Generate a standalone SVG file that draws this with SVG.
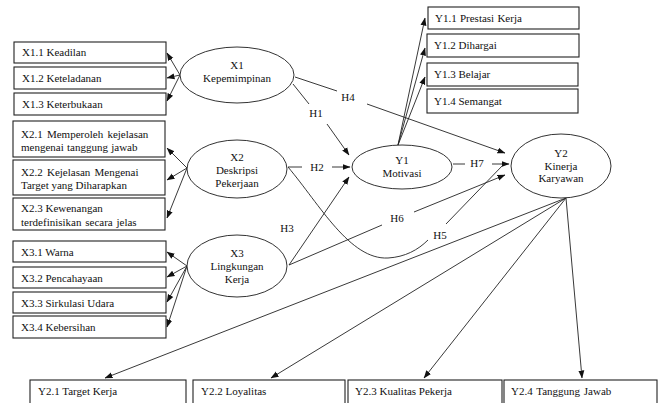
<svg xmlns="http://www.w3.org/2000/svg" width="660" height="403" viewBox="0 0 660 403">
<defs>
<marker id="ah" markerUnits="userSpaceOnUse" markerWidth="8" markerHeight="8" viewBox="0 0 8 8" refX="7.5" refY="4" orient="auto">
<path d="M0,1 L8,4 L0,7 Z" fill="#111"/>
</marker>
</defs>
<style>
text{font-family:"Liberation Serif","Times New Roman",serif;font-size:11px;fill:#111}
.box{fill:#fff;stroke:#222;stroke-width:1.1}
.ell{fill:#fff;stroke:#333;stroke-width:1}
.c{text-anchor:middle}
.ln{fill:none;stroke:#222;stroke-width:0.9}
.ar{fill:none;stroke:#222;stroke-width:0.9;marker-end:url(#ah)}
</style>
<rect width="660" height="403" fill="#fff"/>

<g id="connectors">
<line class="ar" x1="180" y1="75" x2="167" y2="53"/>
<line class="ar" x1="180" y1="75" x2="167" y2="78"/>
<line class="ar" x1="180" y1="75" x2="167" y2="101"/>
<line class="ar" x1="187" y1="168" x2="167" y2="148"/>
<line class="ar" x1="187" y1="168" x2="167" y2="180"/>
<line class="ar" x1="187" y1="168" x2="167" y2="218"/>
<line class="ar" x1="187" y1="266" x2="167" y2="252"/>
<line class="ar" x1="187" y1="266" x2="167" y2="277"/>
<line class="ar" x1="187" y1="266" x2="167" y2="302"/>
<line class="ar" x1="187" y1="266" x2="167" y2="327"/>
<line class="ar" x1="398" y1="145" x2="425" y2="18"/>
<line class="ar" x1="398" y1="145" x2="425" y2="48"/>
<line class="ar" x1="398" y1="145" x2="425" y2="77"/>
<line class="ar" x1="566" y1="198" x2="105" y2="378"/>
<line class="ar" x1="566" y1="198" x2="271" y2="378"/>
<line class="ar" x1="566" y1="198" x2="424" y2="378"/>
<line class="ar" x1="566" y1="198" x2="582" y2="378"/>
<line class="ln" x1="293" y1="84" x2="309" y2="104"/>
<line class="ar" x1="327" y1="124" x2="349" y2="155"/>
<line class="ln" x1="295" y1="77" x2="337" y2="91"/>
<line class="ar" x1="367" y1="104" x2="505" y2="153"/>
<line class="ln" x1="288" y1="167" x2="302" y2="167"/>
<line class="ar" x1="332" y1="167" x2="350" y2="167"/>
<line class="ar" x1="289" y1="265" x2="349" y2="177"/>
<line class="ln" x1="289" y1="265" x2="382" y2="225"/>
<line class="ar" x1="414" y1="212" x2="505" y2="175"/>
<path class="ln" d="M288,167 C320,205 350,260 388,258 C405,257 418,250 428,240"/>
<line class="ln" x1="446" y1="224" x2="503" y2="165"/>
<line class="ln" x1="453" y1="164" x2="465" y2="164"/>
<line class="ar" x1="492" y1="164" x2="509" y2="164"/>
<text x="316" y="117" class="c">H1</text>
<text x="348" y="101" class="c">H4</text>
<text x="317" y="171" class="c">H2</text>
<text x="287" y="232" class="c">H3</text>
<text x="397" y="222" class="c">H6</text>
<text x="440" y="239" class="c">H5</text>
<text x="477" y="167" class="c">H7</text>
</g>

<g id="X1"><ellipse class="ell" cx="237" cy="75" rx="57" ry="28"/><text x="237" y="69" class="c">X1</text><text x="237" y="82" class="c">Kepemimpinan</text></g>
<g id="X2"><ellipse class="ell" cx="237" cy="169" rx="50" ry="29"/><text x="237" y="161" class="c">X2</text><text x="237" y="174" class="c">Deskripsi</text><text x="237" y="187" class="c">Pekerjaan</text></g>
<g id="X3"><ellipse class="ell" cx="237" cy="266" rx="50" ry="31"/><text x="237" y="257" class="c">X3</text><text x="237" y="270" class="c">Lingkungan</text><text x="237" y="283" class="c">Kerja</text></g>
<g id="Y1"><ellipse class="ell" cx="402" cy="167" rx="50" ry="22"/><text x="402" y="164" class="c">Y1</text><text x="402" y="177" class="c">Motivasi</text></g>
<g id="Y2"><ellipse class="ell" cx="561" cy="166" rx="50" ry="32"/><text x="561" y="157" class="c">Y2</text><text x="561" y="170" class="c">Kinerja</text><text x="561" y="182" class="c">Karyawan</text></g>

<g id="X1.1"><rect class="box" x="14" y="42" width="152" height="21"/><text x="22" y="56">X1.1 Keadilan</text></g>
<g id="X1.2"><rect class="box" x="14" y="67" width="152" height="22"/><text x="22" y="82">X1.2 Keteladanan</text></g>
<g id="X1.3"><rect class="box" x="14" y="93" width="152" height="22"/><text x="22" y="108">X1.3 Keterbukaan</text></g>
<g id="X2.1"><rect class="box" x="13" y="121" width="152" height="36"/><text x="21" y="138" word-spacing="1.5">X2.1 Memperoleh kejelasan</text><text x="21" y="151" word-spacing="0.5">mengenai tanggung jawab</text></g>
<g id="X2.2"><rect class="box" x="13" y="160" width="152" height="35"/><text x="21" y="176" word-spacing="1.5">X2.2 Kejelasan Mengenai</text><text x="21" y="189">Target yang Diharapkan</text></g>
<g id="X2.3"><rect class="box" x="13" y="198" width="152" height="32"/><text x="21" y="212">X2.3 Kewenangan</text><text x="21" y="226" word-spacing="1">terdefinisikan secara jelas</text></g>
<g id="X3.1"><rect class="box" x="13" y="241" width="153" height="21"/><text x="21" y="256">X3.1 Warna</text></g>
<g id="X3.2"><rect class="box" x="13" y="267" width="153" height="21"/><text x="21" y="282">X3.2 Pencahayaan</text></g>
<g id="X3.3"><rect class="box" x="13" y="292" width="153" height="21"/><text x="21" y="307">X3.3 Sirkulasi Udara</text></g>
<g id="X3.4"><rect class="box" x="13" y="316" width="153" height="22"/><text x="21" y="331">X3.4 Kebersihan</text></g>

<g id="Y1.1"><rect class="box" x="428" y="7" width="151" height="22"/><text x="435" y="22" word-spacing="0.5">Y1.1 Prestasi Kerja</text></g>
<g id="Y1.2"><rect class="box" x="427" y="34" width="152" height="23"/><text x="434" y="49">Y1.2 Dihargai</text></g>
<g id="Y1.3"><rect class="box" x="427" y="63" width="151" height="23"/><text x="434" y="78">Y1.3 Belajar</text></g>
<g id="Y1.4"><rect class="box" x="427" y="89" width="151" height="24"/><text x="434" y="105">Y1.4 Semangat</text></g>

<g id="Y2.1"><rect class="box" x="30" y="380" width="156" height="30"/><text x="38" y="395">Y2.1 Target Kerja</text></g>
<g id="Y2.2"><rect class="box" x="193" y="380" width="152" height="30"/><text x="201" y="395">Y2.2 Loyalitas</text></g>
<g id="Y2.3"><rect class="box" x="348" y="380" width="154" height="30"/><text x="355" y="395">Y2.3 Kualitas Pekerja</text></g>
<g id="Y2.4"><rect class="box" x="504" y="380" width="153" height="30"/><text x="511" y="395" word-spacing="1">Y2.4 Tanggung Jawab</text></g>
</svg>
